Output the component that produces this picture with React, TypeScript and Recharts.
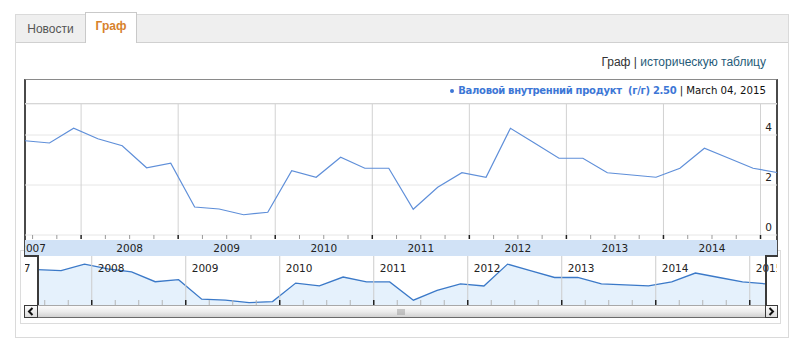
import React from 'react';
import {
  Area,
  AreaChart,
  CartesianGrid,
  Line,
  LineChart,
  ReferenceLine,
  XAxis,
  YAxis,
} from 'recharts';

// quarterly release dates and y/y GDP values
const releaseDates = [
  '2007-06-04', '2007-09-04', '2007-12-04',
  '2008-03-04', '2008-06-04', '2008-09-04', '2008-12-04',
  '2009-03-04', '2009-06-04', '2009-09-04', '2009-12-04',
  '2010-03-04', '2010-06-04', '2010-09-04', '2010-12-04',
  '2011-03-04', '2011-06-04', '2011-09-04', '2011-12-04',
  '2012-03-04', '2012-06-04', '2012-09-04', '2012-12-04',
  '2013-03-04', '2013-06-04', '2013-09-04', '2013-12-04',
  '2014-03-04', '2014-06-04', '2014-09-04', '2014-12-04',
  '2015-03-04',
];
const gdpYoY = [
  3.77, 3.68, 4.27,
  3.85, 3.57, 2.69, 2.87,
  1.12, 1.04, 0.81, 0.91,
  2.57, 2.31, 3.11, 2.67,
  2.67, 1.03, 1.91, 2.49,
  2.31, 4.27, 3.67, 3.07,
  3.07, 2.49, 2.40, 2.31,
  2.67, 3.47, 3.07, 2.67,
  2.5,
];
const yearLines = [2008, 2009, 2010, 2011, 2012, 2013, 2014, 2015];
const valueTicks = [0, 2, 4];
const tabs = ['Новости', 'Граф'];
const seriesName = 'Валовой внутренний продукт  (г/г) 2.50';
const lastDate = 'March 04, 2015';

const CHART_FONT = '"DejaVu Sans", Verdana, sans-serif';
const PAGE_FONT = '"Liberation Sans", Arial, sans-serif';

function toYear(d: string): number {
  const [y, m, day] = d.split('-').map(Number);
  const start = Date.UTC(y, 0, 1);
  const end = Date.UTC(y + 1, 0, 1);
  return y + (Date.UTC(y, m - 1, day) - start) / (end - start);
}

const data = releaseDates.map((d, i) => ({ t: toYear(d), v: gdpYoY[i] }));
const tFirst = data[0].t;
const tLast = data[data.length - 1].t;

const mainTicks = Array.from({ length: 31 }, (_, i) => 2007.5 + i * 0.25);
const navTicks = Array.from({ length: 33 }, (_, i) => 2007 + i * 0.25);

function MainTick({ x, y, payload }: any) {
  const v = payload.value as number;
  const major = v % 1 === 0;
  return (
    <g>
      <line
        x1={x}
        x2={x}
        y1={y}
        y2={y + 4}
        stroke={major ? '#222' : '#9a9a9a'}
        strokeWidth={major ? 1.5 : 1}
      />
      {v % 1 === 0.5 && (
        <text x={x} y={y + 17} textAnchor="middle" fontSize={10.5} fill="#222" fontFamily={CHART_FONT}>
          {Math.floor(v)}
        </text>
      )}
    </g>
  );
}

function NavTick({ x, y, payload }: any) {
  const v = payload.value as number;
  const major = v % 1 === 0;
  return (
    <g>
      <line
        x1={x}
        x2={x}
        y1={y - 5}
        y2={y}
        stroke={major ? '#222' : '#b5b5b5'}
        strokeWidth={major ? 1.5 : 1}
      />
      {major && (
        <text x={x + 6} y={y - 33} textAnchor="start" fontSize={10.5} fill="#222" fontFamily={CHART_FONT}>
          {v}
        </text>
      )}
    </g>
  );
}

function ValueTick({ x, y, payload }: any) {
  return (
    <text x={x} y={y - 4} textAnchor="end" fontSize={10.5} fill="#222" fontFamily={CHART_FONT}>
      {payload.value}
    </text>
  );
}

const abs = (left: number, top: number, width: number, height: number): React.CSSProperties => ({
  position: 'absolute',
  left,
  top,
  width,
  height,
  boxSizing: 'border-box',
});

export default function App() {
  return (
    <div style={{ position: 'absolute', left: 0, top: 0, width: 800, height: 351, background: '#fff', overflow: 'hidden', fontFamily: PAGE_FONT }}>
      {/* widget box and tabs */}
      <div style={{ ...abs(15, 14, 774, 324), border: '1px solid #dadada' }} />
      <div style={{ ...abs(16, 15, 772, 28), background: '#efefef', borderBottom: '1px solid #d0d0d0' }} />
      <div style={{ ...abs(16, 15, 69, 28), fontSize: 12, color: '#555', textAlign: 'center', lineHeight: '28px' }}>
        {tabs[0]}
      </div>
      <div
        style={{
          ...abs(85, 12, 52, 31),
          background: '#fff',
          border: '1px solid #c9c9c9',
          borderBottom: 'none',
          fontSize: 12,
          fontWeight: 'bold',
          color: '#d7822c',
          textAlign: 'center',
          lineHeight: '27px',
        }}
      >
        {tabs[1]}
      </div>

      {/* view switch */}
      <div style={{ position: 'absolute', right: 34, top: 55, fontSize: 12, whiteSpace: 'nowrap', color: '#333' }}>
        Граф | <span style={{ color: '#1f5b79' }}>историческую таблицу</span>
      </div>

      {/* navigator panel */}
      <div style={{ ...abs(20, 250, 761, 74), border: '1px solid #dcdcdc' }} />

      {/* chart frame */}
      <div
        style={{
          ...abs(24, 79, 754, 177),
          borderTop: '1px solid #8a8a8a',
          borderLeft: '2px solid #4a4a4a',
          borderRight: '2px solid #4a4a4a',
        }}
      />
      <div style={{ ...abs(25, 103, 752, 1), background: '#d6d6d6' }} />
      <div
        style={{
          position: 'absolute',
          right: 34,
          top: 85,
          fontFamily: CHART_FONT,
          whiteSpace: 'pre',
          color: '#111',
          display: 'flex',
          alignItems: 'center',
        }}
      >
        <span style={{ display: 'inline-block', width: 4, height: 4, borderRadius: 2, background: '#3d77d6', marginRight: 4 }} />
        <span style={{ color: '#3d77d6', fontWeight: 'bold', fontSize: 10, letterSpacing: -0.3 }}>{seriesName}</span>
        <span style={{ fontSize: 10.2 }}>{' | '}{lastDate}</span>
      </div>
      <div style={{ ...abs(25, 240, 752, 16), background: '#d1e2f6' }} />

      <div style={{ position: 'absolute', left: 25, top: 104 }}>
        <LineChart width={752} height={152} data={data} margin={{ top: 0, right: 0, bottom: 0, left: 0 }}>
          <CartesianGrid vertical={false} stroke="#e6e6e6" />
          {yearLines.map((yr) => (
            <ReferenceLine key={yr} x={yr} stroke="#d2d2d2" />
          ))}
          <XAxis
            dataKey="t"
            type="number"
            domain={[tFirst, tLast]}
            ticks={mainTicks}
            interval={0}
            height={21}
            axisLine={false}
            tickLine={false}
            tickSize={0}
            tickMargin={0}
            tick={(p: any) => <MainTick {...p} />}
          />
          <YAxis
            orientation="right"
            mirror
            width={30}
            domain={[0, 5.24]}
            ticks={valueTicks}
            axisLine={false}
            tickLine={false}
            tickSize={0}
            tickMargin={5}
            tick={(p: any) => <ValueTick {...p} />}
          />
          <Line
            type="linear"
            dataKey="v"
            stroke="#5f8fd9"
            strokeWidth={1.2}
            dot={false}
            isAnimationActive={false}
          />
        </LineChart>
      </div>

      <div style={{ position: 'absolute', left: 25, top: 256 }}>
        <AreaChart width={752} height={49} data={data} margin={{ top: 0, right: 0, bottom: 0, left: 0 }}>
          {yearLines.map((yr) => (
            <ReferenceLine key={yr} x={yr} stroke="#cccccc" />
          ))}
          <XAxis
            dataKey="t"
            type="number"
            domain={[2007.29, 2015.29]}
            allowDataOverflow
            ticks={navTicks}
            interval={0}
            mirror
            height={30}
            axisLine={false}
            tickLine={false}
            tickSize={0}
            tickMargin={0}
            tick={(p: any) => <NavTick {...p} />}
          />
          <YAxis hide domain={[0.6, 5.0]} />
          <Area
            type="linear"
            dataKey="v"
            stroke="#3b79c8"
            strokeWidth={1.3}
            fill="#cfe5fa"
            fillOpacity={0.55}
            isAnimationActive={false}
          />
        </AreaChart>
      </div>

      {/* selection window outline */}
      <div style={{ ...abs(24, 255, 14, 1.5), background: '#3a3a3a' }} />
      <div style={{ ...abs(765, 255, 13, 1.5), background: '#3a3a3a' }} />
      <div style={{ ...abs(37, 255, 1.5, 63), background: '#3a3a3a' }} />
      <div style={{ ...abs(765, 255, 1.5, 63), background: '#3a3a3a' }} />

      {/* scrollbar */}
      <div
        style={{
          ...abs(24, 305, 754, 13),
          background: 'linear-gradient(#fbfbfb, #ececec 50%, #d2d2d2)',
          borderTop: '1px solid #a8a8a8',
          borderBottom: '1px solid #6a6a6a',
        }}
      />
      <div style={{ ...abs(24, 305, 14, 13), border: '1px solid #3a3a3a', background: 'linear-gradient(#fbfbfb, #dcdcdc)' }}>
        <svg width={12} height={11} style={{ position: 'absolute', left: 0, top: 0 }}>
          <polyline points="7.5,2 4,5.5 7.5,9" fill="none" stroke="#111" strokeWidth={2} />
        </svg>
      </div>
      <div style={{ ...abs(765, 305, 13, 13), border: '1px solid #3a3a3a', background: 'linear-gradient(#fbfbfb, #dcdcdc)' }}>
        <svg width={11} height={11} style={{ position: 'absolute', left: 0, top: 0 }}>
          <polyline points="3.5,2 7,5.5 3.5,9" fill="none" stroke="#111" strokeWidth={2} />
        </svg>
      </div>
      <svg width={10} height={6} style={{ position: 'absolute', left: 397, top: 309 }}>
        {[1, 3, 5, 7].map((gx) => (
          <line key={gx} x1={gx} x2={gx} y1={0} y2={6} stroke="#9a9a9a" />
        ))}
      </svg>
    </div>
  );
}
